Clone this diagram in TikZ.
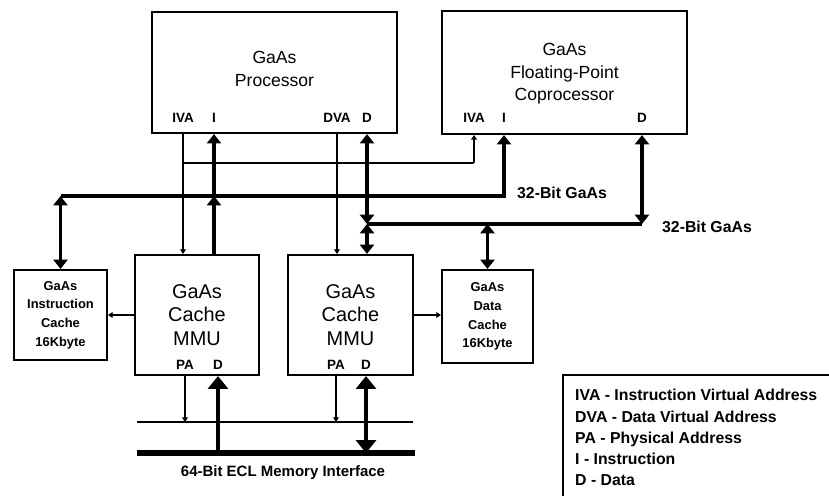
\documentclass[tikz,border=0pt]{standalone}
\usepackage{fontspec}
\setmainfont{Liberation Sans}
\usetikzlibrary{arrows.meta}

\newcommand\bigtext{\fontsize{15}{19}\selectfont}
\newcommand\mmutext{\fontsize{17}{20}\selectfont}
\newcommand\smalltext{\bfseries\fontsize{11}{16}\selectfont}
\newcommand\labeltext{\bfseries\fontsize{13.5}{18.2}\selectfont}

\tikzset{
  box/.style={draw,line width=1.8pt,align=center,inner sep=0pt},
  port/.style={font=\bfseries\fontsize{11.5}{12}\selectfont,inner sep=0pt},
  thinbus/.style={line width=1.6pt},
  bus/.style={line width=3.4pt},
  smallarrow/.style={-{Triangle[width=5pt,length=4pt]}}
}

\begin{document}
\begin{tikzpicture}[x=0.03cm,y=-0.03cm,>={Triangle[width=12pt,length=8pt]}]
\useasboundingbox (0,0) rectangle (829,495);

% boxes
\node[box,minimum width=7.35cm,minimum height=3.63cm,font=\bigtext] (proc) at (274.5,72.5) {GaAs\\Processor\\[-13pt]};
\node[box,minimum width=7.35cm,minimum height=3.69cm,font=\bigtext] (cop) at (564.5,72.5) {GaAs\\Floating-Point\\Coprocessor\\[-18pt]};
\node[box,minimum width=2.79cm,minimum height=2.7cm,font=\smalltext] (icache) at (60.5,315) {GaAs\\Instruction\\Cache\\16Kbyte};
\node[box,minimum width=3.72cm,minimum height=3.6cm,font=\mmutext] (mmuA) at (197,315) {GaAs\\Cache\\MMU};
\node[box,minimum width=3.75cm,minimum height=3.6cm,font=\mmutext] (mmuB) at (350.5,315) {GaAs\\Cache\\MMU};
\node[box,minimum width=2.73cm,minimum height=2.79cm,font=\smalltext] (dcache) at (487.5,316.5) {GaAs\\Data\\Cache\\16Kbyte};

% port labels
\node[port] (pIVA) at (183,118) {IVA};
\node[port] (pI) at (214,118) {I};
\node[port] (pDVA) at (337,118) {DVA};
\node[port] (pD) at (367,118) {D};
\node[port] (cIVA) at (474,118) {IVA};
\node[port] (cI) at (504,118) {I};
\node[port] (cD) at (642,118) {D};
\node[port] (aPA) at (185,365) {PA};
\node[port] (aD) at (218,365) {D};
\node[port] (bPA) at (336,365) {PA};
\node[port] (bD) at (366,365) {D};

% bus heights
\coordinate (ivabus) at (0,163);
\coordinate (ibus) at (0,196);
\coordinate (dbus) at (0,224);
\coordinate (abus) at (137,422);
\coordinate (abusend) at (413,422);
\coordinate (mbus) at (137,453);
\coordinate (mbusend) at (415,453);

% virtual addresses
\draw[thinbus,smallarrow] (pIVA |- proc.south) -- (pIVA |- mmuA.north);
\draw[thinbus,smallarrow,rounded corners=1pt] (pIVA |- ivabus) -| (cIVA |- cop.south);
\draw[thinbus,smallarrow] (pDVA |- proc.south) -- (pDVA |- mmuB.north);

% instruction bus
\draw[bus,->] (pI |- mmuA.north) -- (pI |- ibus);
\draw[bus,->] (pI |- ibus) -- (pI |- proc.south);
\draw[bus,<->] (icache.north) -- (icache.north |- ibus);
\draw[bus,->] (icache.north |- ibus) -| (cI |- cop.south);

% data bus
\draw[bus,<->] (pD |- dbus) -- (pD |- proc.south);
\draw[bus,<->] (pD |- dbus) -- (pD |- mmuB.north);
\draw[bus] (pD |- dbus) -- (cD |- dbus);
\draw[bus,<->] (cD |- dbus) -- (cD |- cop.south);
\draw[bus,<->] (dcache.north |- dbus) -- (dcache.north);

% cache links
\draw[thinbus,smallarrow] (mmuA.west) -- (icache.east);
\draw[thinbus,smallarrow] (mmuB.east) -- (mmuB.east -| dcache.west);

% memory interface
\draw[thinbus] (abus) -- (abusend);
\draw[line width=4.3pt] (mbus) -- (mbusend);
\draw[thinbus,smallarrow] (aPA |- mmuA.south) -- (aPA |- abus);
\draw[thinbus,smallarrow] (bPA |- mmuB.south) -- (bPA |- abus);
\draw[bus,-{Triangle[width=17pt,length=11pt]}] (aD |- mbus) -- (aD |- mmuA.south);
\draw[bus,{Triangle[width=17pt,length=11pt]}-{Triangle[width=17pt,length=11pt]}] (bD |- mmuB.south) -- (bD |- mbus);

% labels
\node[font=\labeltext] (ilabel) at (562,193) {32-Bit GaAs};
\node[font=\labeltext] (dlabel) at (707,227) {32-Bit GaAs};
\node[font=\bfseries\fontsize{12.8}{14}\selectfont] (memlabel) at (283,473) {64-Bit ECL Memory Interface};

% legend
\draw[line width=1.8pt] (835,375) -| (563,500);
\node[font=\labeltext,align=left,anchor=north west,inner sep=0pt] (legend) at (575,389)
  {IVA - Instruction Virtual Address\\DVA - Data Virtual Address\\PA - Physical Address\\I - Instruction\\D - Data};
\end{tikzpicture}
\end{document}
